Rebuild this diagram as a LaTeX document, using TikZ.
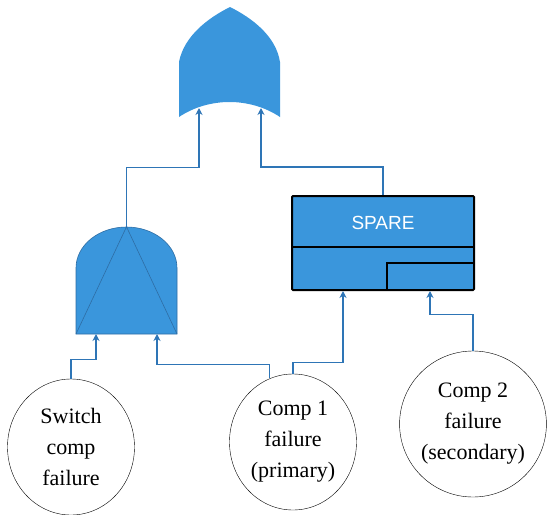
\documentclass[tikz,border=0pt]{standalone}
\usepackage{fontspec}
\setmainfont{Liberation Serif}
\setsansfont{Liberation Sans}
\usepackage{tikz}
\usetikzlibrary{arrows.meta,positioning,calc,shapes.geometric}
\definecolor{gatefill}{HTML}{3A96DC}
\definecolor{gateedge}{HTML}{2E6DA4}
\definecolor{wire}{HTML}{2E75B6}

\begin{document}
\begin{tikzpicture}[
  x=1pt,y=-1pt,
  event/.style={draw=black,ellipse,minimum width=127,minimum height=136,inner sep=0pt,
    align=center,font=\fontsize{22}{31}\selectfont},
  gatebox/.style={minimum width=#1,inner sep=0pt},
  conn/.style={-{Stealth[length=7pt,width=7pt]},wire,line width=1.1pt}
]
\useasboundingbox (0,0) rectangle (550,515);

% OR gate (top)
\node[gatebox=101,minimum height=110] (or) at (229.5,62) {};
\fill[gatefill] (179,117) -- (179,62) .. controls (184,36) and (208,18) .. (230,7)
  .. controls (252,18) and (276,36) .. (280,62) -- (280,117)
  .. controls (250,97) and (209,97) .. (179,117) -- cycle;
\coordinate (or-in1) at (199,108);
\coordinate (or-in2) at (261,108);

% AND gate
\node[gatebox=101,minimum height=107] (and) at (126.5,280.5) {};
\filldraw[fill=gatefill,draw=gateedge,line width=0.6pt] (76,334) -- (76,268)
  arc[start angle=180,end angle=0,x radius=50.5,y radius=-41] -- (177,334) -- cycle;
\draw[gateedge,line width=0.6pt] (76,334) -- (and.north) -- (177,334);
\coordinate (and-in1) at (96,334);
\coordinate (and-in2) at (157,334);

% SPARE gate
\node[gatebox=182,minimum height=94,fill=gatefill,draw=black,line width=2pt,rounded corners=1pt] (spare) at (383,243) {};
\draw[black,line width=2pt] (292,247) -- (474,247);
\draw[black,line width=2pt] (474,263) -- (387,263) -- (387,290);
\node[font=\sffamily\fontsize{19}{22}\selectfont,text=white] (sparelbl) at (383,223) {SPARE};
\coordinate (spare-in1) at (343,291);
\coordinate (spare-in2) at (430,291);

% basic events
\node[event] (sw) at (71,447) {Switch\\comp\\failure};
\node[event] (c1) at (293,442) {Comp 1\\failure\\(primary)};
\node[event,minimum width=133,minimum height=146] (c2) at (473,424) {Comp 2\\failure\\(secondary)};

% connectors
\draw[conn] (and.north) -- ++(0,-59) -| (or-in1);
\draw[conn] (spare.north) -- ++(0,-28) -| (or-in2);
\draw[conn] (sw.north) -- ++(0,-19) -| (and-in1);
\draw[conn] (c1.110) -- ++(0,-14) -| (and-in2);
\draw[conn] (c1.north) -- ++(0,-11) -| (spare-in1);
\draw[conn] (c2.north) -- ++(0,-36) -| (spare-in2);
\end{tikzpicture}
\end{document}
